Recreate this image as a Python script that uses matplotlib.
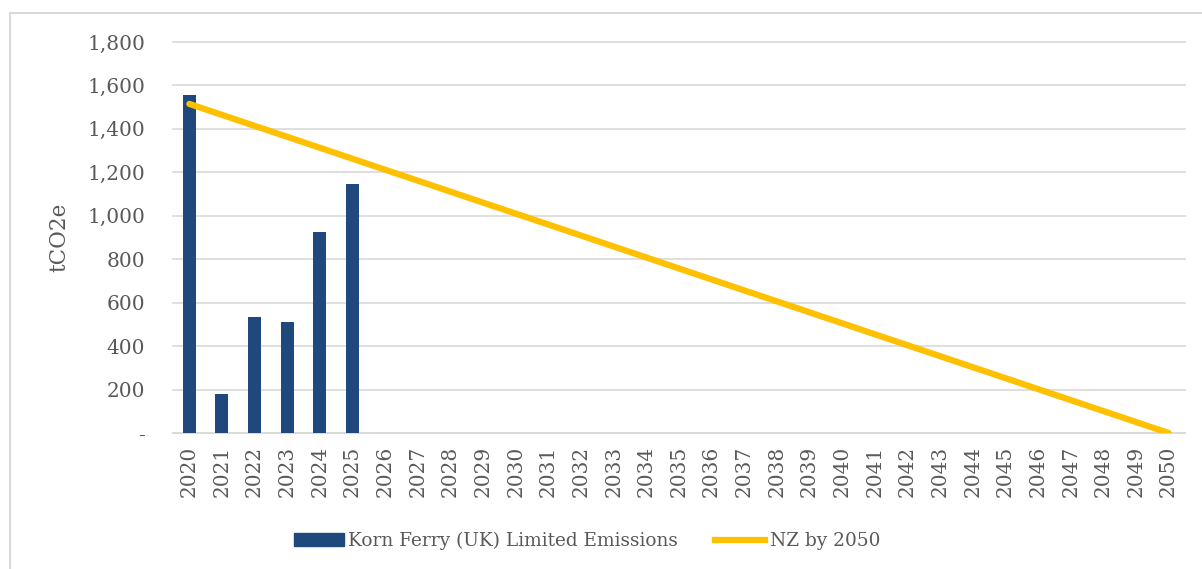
import numpy as np
import matplotlib.pyplot as plt
from matplotlib.patches import Rectangle
from matplotlib.lines import Line2D

# Dados
anos = list(range(2020, 2051))
anos_barras = [2020, 2021, 2022, 2023, 2024, 2025]
emissoes = [1556, 180, 534, 511, 925, 1146]
anos_linha = [2020, 2050]
nz_linha = [1515, 0]
ticks_y = [0, 200, 400, 600, 800, 1000, 1200, 1400, 1600, 1800]

azul = '#1F497D'
amarelo = '#FFC000'
cinza_txt = '#595959'
cinza_grade = '#D9D9D9'

plt.rcParams['font.family'] = ['DejaVu Serif']

fig = plt.figure(figsize=(12.02, 5.69), dpi=100)
ax = fig.add_axes([173 / 1202, 1 - 433 / 569, (1185 - 173) / 1202, (433 - 42) / 569])

pos = {a: i for i, a in enumerate(anos)}
ax.bar([pos[a] for a in anos_barras], emissoes, width=0.4, color=azul,
       label='Korn Ferry (UK) Limited Emissions', zorder=3)
ax.plot([pos[a] for a in anos_linha], nz_linha, color=amarelo, lw=4.5,
        solid_capstyle='round', label='NZ by 2050', zorder=4)

ax.set_xlim(-0.5, len(anos) - 0.5)
ax.set_ylim(0, 1800)
ax.set_xticks(range(len(anos)))
ax.set_xticklabels([str(a) for a in anos], rotation=90, fontsize=14.5, color=cinza_txt)
ax.set_yticks(ticks_y)
ax.set_yticklabels(['-' if v == 0 else f'{v:,}' for v in ticks_y], fontsize=14.5, color=cinza_txt)
ax.tick_params(length=0, pad=9)
ax.tick_params(axis='y', pad=20)
ax.grid(axis='y', color=cinza_grade, lw=1.2, zorder=0)
for g in ax.get_ygridlines():
    g.set_clip_on(False)
for s in ['top', 'right', 'left']:
    ax.spines[s].set_visible(False)
ax.spines['bottom'].set_color(cinza_grade)
ax.spines['bottom'].set_linewidth(1.2)
ax.set_ylabel('tCO2e', fontsize=15.5, color=cinza_txt, labelpad=12)

handles = [Rectangle((0, 0), 1, 1, color=azul),
           Line2D([0], [0], color=amarelo, lw=4.5)]
fig.legend(handles, ['Korn Ferry (UK) Limited Emissions', 'NZ by 2050'],
           loc='center', bbox_to_anchor=(587 / 1202, 1 - 541 / 569), ncol=2, frameon=False,
           fontsize=13.3, labelcolor=cinza_txt, handlelength=2.7, handletextpad=0.25,
           columnspacing=2.0)

# moldura do gráfico
fig.patches.append(Rectangle((10 / 1202, -0.1), 1.2, 1 - 13 / 569 + 0.1,
                             transform=fig.transFigure, fill=False,
                             edgecolor='#D9D9D9', lw=1.5))

plt.savefig('out.png', dpi=100)
